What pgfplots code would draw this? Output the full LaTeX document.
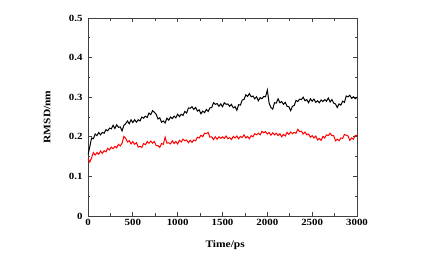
\documentclass[border=0pt]{standalone}
\usepackage{pgfplots}
\pgfplotsset{compat=1.18}
\usepackage{fontspec}
\setmainfont{Liberation Serif}[FakeStretch=1.15]
\begin{document}
\begin{tikzpicture}
\begin{axis}[
  scale only axis, width=269bp, height=198bp,
  xmin=0, xmax=3000, ymin=0, ymax=0.5,
  xtick={0,500,1000,1500,2000,2500,3000}, minor x tick num=1,
  ytick={0,0.1,0.2,0.3,0.4,0.5}, minor y tick num=1,
  tick align=inside, major tick length=4bp, minor tick length=2.5bp,
  axis line style={draw=black!75, line width=0.9bp},
  every tick/.style={draw=black!75, line width=0.8bp},
  tick label style={font=\fontsize{9.5}{10}\selectfont\bfseries},
  /pgf/number format/assume math mode=true,
  scaled ticks=false,
  yticklabel style={/pgf/number format/fixed, /pgf/number format/precision=1, xshift=-2bp},
  xticklabel style={/pgf/number format/1000 sep={}},
  xlabel={Time/ps}, ylabel={RMSD/nm},
  label style={font=\fontsize{10}{11}\selectfont\bfseries},
  xlabel style={at={(axis description cs:0.51,-0.146)}, anchor=center},
  ylabel style={at={(axis description cs:-0.152,0.5)}, anchor=center},
]
\addplot[black, line width=1bp] coordinates {
(0,0.154)(20,0.175)(40,0.197)(60,0.195)(80,0.207)(100,0.203)(120,0.211)(140,0.205)(160,0.211)(180,0.209)
(200,0.218)(220,0.215)(240,0.222)(260,0.220)(280,0.229)(300,0.221)(320,0.230)(340,0.224)(360,0.225)(380,0.215)
(400,0.229)(420,0.233)(440,0.240)(460,0.233)(480,0.243)(500,0.236)(520,0.243)(540,0.237)(560,0.243)(580,0.240)
(600,0.250)(620,0.247)(640,0.252)(660,0.249)(680,0.260)(700,0.256)(720,0.266)(740,0.262)(760,0.257)(780,0.245)
(800,0.248)(820,0.237)(840,0.240)(860,0.235)(880,0.247)(900,0.242)(920,0.250)(940,0.246)(960,0.252)(980,0.248)
(1000,0.257)(1020,0.251)(1040,0.257)(1060,0.254)(1080,0.264)(1100,0.260)(1120,0.273)(1140,0.272)(1160,0.276)(1180,0.269)
(1200,0.274)(1220,0.265)(1240,0.268)(1260,0.258)(1280,0.265)(1300,0.261)(1320,0.269)(1340,0.264)(1360,0.273)(1380,0.274)
(1400,0.286)(1420,0.282)(1440,0.284)(1460,0.277)(1480,0.283)(1500,0.276)(1520,0.286)(1540,0.282)(1560,0.283)(1580,0.277)
(1600,0.282)(1620,0.273)(1640,0.276)(1660,0.267)(1680,0.281)(1700,0.280)(1720,0.293)(1740,0.294)(1760,0.306)(1780,0.302)
(1800,0.309)(1820,0.301)(1840,0.303)(1860,0.296)(1880,0.301)(1900,0.291)(1920,0.299)(1940,0.296)(1960,0.302)(1980,0.301)
(2000,0.318)(2020,0.285)(2040,0.274)(2060,0.270)(2080,0.286)(2100,0.285)(2120,0.296)(2140,0.286)(2160,0.289)(2180,0.282)
(2200,0.287)(2220,0.277)(2240,0.276)(2260,0.266)(2280,0.277)(2300,0.279)(2320,0.292)(2340,0.289)(2360,0.295)(2380,0.294)
(2400,0.300)(2420,0.291)(2440,0.294)(2460,0.286)(2480,0.296)(2500,0.290)(2520,0.295)(2540,0.287)(2560,0.291)(2580,0.286)
(2600,0.293)(2620,0.289)(2640,0.294)(2660,0.290)(2680,0.298)(2700,0.288)(2720,0.294)(2740,0.285)(2760,0.283)(2780,0.274)
(2800,0.283)(2820,0.280)(2840,0.290)(2860,0.287)(2880,0.303)(2900,0.301)(2920,0.305)(2940,0.297)(2960,0.301)(2980,0.296)
(3000,0.300)
};
\addplot[red, line width=1bp] coordinates {
(0,0.146)(20,0.136)(40,0.147)(60,0.160)(80,0.154)(100,0.160)(120,0.156)(140,0.164)(160,0.158)(180,0.165)
(200,0.162)(220,0.171)(240,0.167)(260,0.174)(280,0.170)(300,0.176)(320,0.172)(340,0.181)(360,0.177)(380,0.184)
(400,0.201)(420,0.196)(440,0.187)(460,0.190)(480,0.182)(500,0.188)(520,0.181)(540,0.185)(560,0.174)(580,0.176)
(600,0.173)(620,0.183)(640,0.180)(660,0.188)(680,0.184)(700,0.189)(720,0.184)(740,0.188)(760,0.178)(780,0.178)
(800,0.173)(820,0.183)(840,0.181)(860,0.199)(880,0.184)(900,0.185)(920,0.182)(940,0.190)(960,0.183)(980,0.188)
(1000,0.182)(1020,0.191)(1040,0.187)(1060,0.194)(1080,0.190)(1100,0.192)(1120,0.185)(1140,0.191)(1160,0.186)(1180,0.192)
(1200,0.190)(1220,0.199)(1240,0.197)(1260,0.204)(1280,0.200)(1300,0.209)(1320,0.208)(1340,0.211)(1360,0.199)(1380,0.200)
(1400,0.193)(1420,0.200)(1440,0.194)(1460,0.200)(1480,0.196)(1500,0.200)(1520,0.196)(1540,0.202)(1560,0.195)(1580,0.198)
(1600,0.193)(1620,0.201)(1640,0.197)(1660,0.202)(1680,0.195)(1700,0.201)(1720,0.198)(1740,0.205)(1760,0.197)(1780,0.201)
(1800,0.195)(1820,0.203)(1840,0.200)(1860,0.208)(1880,0.205)(1900,0.209)(1920,0.205)(1940,0.214)(1960,0.210)(1980,0.213)
(2000,0.207)(2020,0.211)(2040,0.204)(2060,0.210)(2080,0.205)(2100,0.209)(2120,0.203)(2140,0.208)(2160,0.200)(2180,0.206)
(2200,0.202)(2220,0.211)(2240,0.206)(2260,0.212)(2280,0.208)(2300,0.211)(2320,0.209)(2340,0.219)(2360,0.213)(2380,0.214)
(2400,0.207)(2420,0.212)(2440,0.205)(2460,0.207)(2480,0.199)(2500,0.203)(2520,0.197)(2540,0.202)(2560,0.192)(2580,0.196)
(2600,0.191)(2620,0.201)(2640,0.197)(2660,0.205)(2680,0.203)(2700,0.209)(2720,0.203)(2740,0.203)(2760,0.190)(2780,0.194)
(2800,0.190)(2820,0.197)(2840,0.196)(2860,0.206)(2880,0.204)(2900,0.202)(2920,0.191)(2940,0.197)(2960,0.194)(2980,0.203)
(3000,0.204)
};
\end{axis}
\path ([shift={(-88bp,-41bp)}]current axis.south west) rectangle ([shift={(75bp,18bp)}]current axis.north east);
\end{tikzpicture}
\end{document}
